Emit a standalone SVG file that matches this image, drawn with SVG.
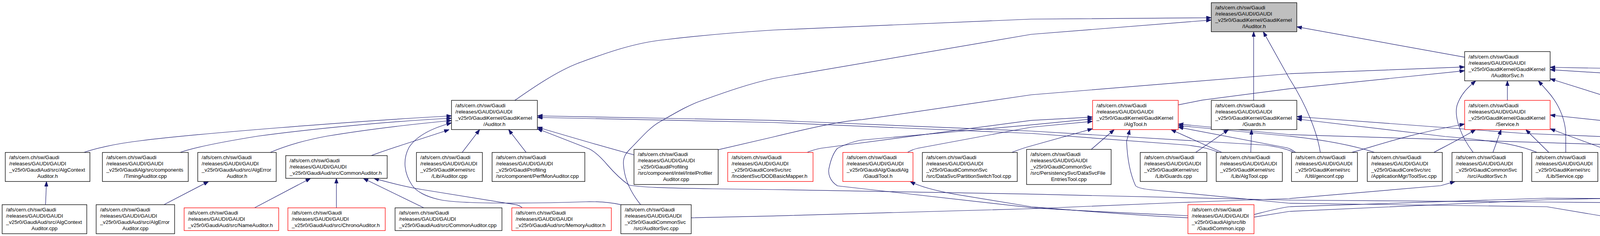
<svg xmlns="http://www.w3.org/2000/svg" width="7894" height="605" viewBox="0 0 7894 605">
<defs>
<style>
.t{font-family:"Liberation Sans",Arial,Helvetica,sans-serif;font-size:13.33px;fill:#000}
.c{text-anchor:middle}
rect.b{fill:#fff;stroke:#000;stroke-width:1.33}
rect.r{fill:#fff;stroke:#ff0000;stroke-width:1.33}
rect.g{fill:#bfbfbf;stroke:#000;stroke-width:1.33}
#edges path{fill:none;stroke:#191970;stroke-width:1.2;marker-end:url(#arr)}
</style>
<marker id="arr" viewBox="0 0 13 9.5" refX="13" refY="4.75" markerWidth="13" markerHeight="9.5" markerUnits="userSpaceOnUse" orient="auto">
<path d="M0,0L13,4.75L0,9.5z" fill="#191970" stroke="#191970" stroke-width="1"/>
</marker>
</defs>
<rect x="0" y="0" width="7894" height="605" fill="#fff"/>
<g id="edges">
<path d="M116.6,524.7L119,465.3"/>
<path d="M419.6,524.7L534,465.3"/>
<path d="M214.6,390.8C240,382 290,369 358,361C500,343 900,311 1155.8,297"/>
<path d="M460.9,390.8C480,384 530,370 660,349C800,330 1000,311 1155.8,303"/>
<path d="M691.6,390.8C710,383 760,363 837,349C950,330 1060,318 1155.8,309"/>
<path d="M950.4,398.9C990,383 1080,356 1150,332.2"/>
<path d="M1183,390.8L1228,332.2"/>
<path d="M1347,390.8C1335,375 1315,350 1302,332.2"/>
<path d="M1623,397C1540,375 1440,345 1375.6,326"/>
<path d="M1589.4,524.7C1560,518 1530,517 1509,517C1420,520 1200,525 1131,513C1090,505 1065,490 1055,475C1035,445 1030,410 1047,378C1065,350 1100,330 1155.8,315"/>
<path d="M651.5,532.8L795,457.2"/>
<path d="M861.2,532.8L861.2,457.2"/>
<path d="M1085,532.8L930,457.2"/>
<path d="M1337,532.8C1330,527 1325,525 1320,524.7L1081,486C1050,481 1010,472 957,457.2"/>
<path d="M1318,257.3C1350,235 1420,185 1480,162C1540,140 1620,110 1700,102C1800,90 1900,82 1980,77L2640,49L3100.9,45.5"/>
<path d="M1640,524.7C1620,500 1598,465 1596,420C1595,400 1605,390 1615,380C1640,355 1660,330 1686,314C1720,295 1760,270 1796,258C1860,235 1920,214 1980,201L2640,88L3100.9,51.3"/>
<path d="M3209.4,257.3L3209.4,81.4"/>
<path d="M3380,390.8C3372,340 3345,270 3300,200L3234,81.4"/>
<path d="M3749.5,146.6L3319.8,68.7"/>
<path d="M1838.5,383.9L1980,351C2100,322 2160,310 2207,306.7L2640,243L3300,189L3749.5,171.7"/>
<path d="M3016.3,268.9L3077.7,256.6L3300,227.6L3749.5,181.3"/>
<path d="M3771.4,390.8C3740,350 3722,300 3730,270C3740,240 3760,222 3778,207.2"/>
<path d="M3858.9,257.3L3858.9,207.2"/>
<path d="M4008.4,390.8L4008.4,339.5C4005,300 3990,265 3960,232L3938,207.2"/>
<path d="M5657.5,286.3L5280,262.3L4620,220L3968.4,178.6"/>
<path d="M4566,390.8L4541,382L3968.4,202"/>
<path d="M7158.9,555.6L7260,551.7C7500,540 7700,515 7798,501.5C7830,495 7855,485 7866,476C7880,462 7889,445 7889,428C7889,410 7880,392 7866,380L7741,339.5L7260,287.4L6600,247L5940,220.7L5280,199.8L4620,184.4L3968.4,172.5"/>
<path d="M6887.5,558.3L6600,554.4L5940,545L5280,538L4620,528L4300,521L3960,518L3300,513L2640,497.7L1980,486L1825,484C1700,482 1640,480 1610,474.5C1590,460 1570,440 1556,424C1540,405 1525,390 1509,382L1375.6,330"/>
<path d="M4199,524.7L4199,465.3"/>
<path d="M4114.5,556L3960,530L3300,521L2951,487C2920,484 2910,480 2907,476C2895,450 2886,410 2884,362L2892.5,332.2"/>
<path d="M3210.3,556.7C3250,550 3280,545 3300,542L3960,512L4620,497.7C4800,490 4900,482 4925,474L4942,465.3"/>
<path d="M3210.3,550C3250,540 3280,532 3300,530L3960,508L4620,512L5280,512L5940,501.5L6285,487C6330,482 6350,479 6355,476.5C6375,455 6382,435 6382,420C6382,400 6375,385 6357,372C6340,362 6325,356 6310,351L5940,308.6L5876.4,305"/>
<path d="M4283.2,558.3L4620,548L5280,537L5940,526.6L6600,501.5C6750,490 6840,480 6869,474.5C6882,455 6890,440 6890,424C6890,405 6882,390 6869,380C6855,372 6845,367 6834,362.7L6600,324L5940,312L5876.4,309"/>
<path d="M1769.5,558.3L1980,553.6L2640,535L3000,520L3300,509L3688,476L3725,465.3"/>
<path d="M3041.1,558.3C2900,552 2700,535 2640,530L2443,497.7C2380,486 2350,476 2330,465.3"/>
<path d="M3041.1,553C2900,547 2700,537 2640,532.4L2144,476.5C2125,465 2118,445 2123,428C2128,405 2135,390 2144,380C2165,370 2185,362 2207,359L2640,320.2L2797,304.8"/>
<path d="M2066,390.8C2080,385 2090,382 2102,380L2640,308.6L2797,300"/>
<path d="M2323,390.8C2333,385 2340,382 2350,380L2640,326L2797,311"/>
<path d="M2590,390.8C2610,383 2625,378 2640,374L2797,330"/>
<path d="M2793.6,383L2852.5,332.2"/>
<path d="M3128,390.8L2997.7,332.2"/>
<path d="M3060.9,390.8L3145,332.2"/>
<path d="M3202,390.8L3204,332.2"/>
<path d="M3519,390.8C3480,378 3420,362 3300,349L3016.3,322"/>
<path d="M3317,390.8C3310,386 3305,382 3295,379L3016.3,326"/>
<path d="M4321,390.8C4300,383 4280,378 4250,375L3300,345L3016.3,318"/>
<path d="M3460,390.8C3520,375 3600,345 3749.5,318"/>
<path d="M3670.4,390.8C3700,375 3740,355 3777.7,332.2"/>
<path d="M3821.9,390.8L3842.9,332.2"/>
<path d="M3965,390.8L3906,332.2"/>
<path d="M4130,390.8C4100,378 4060,365 3968.4,330"/>
<path d="M4757,390.8C4740,383 4720,375 4620,364.6L3968.4,295"/>
<path d="M3935,390.8C3900,376 3850,362 3700,350L3319.8,305"/>
<path d="M4560,390.8C4530,380 4450,368 4300,358L3900,342L3319.8,299"/>
<path d="M3312,390.8C3300,384 3280,378 3240,372L2640,336L1980,308.6L1375.6,297"/>
<path d="M3120,390.8C3100,382 3080,377 3040,372L2640,342L1980,314L1375.6,301"/>
<path d="M5360,390.8C5400,375 5460,362 5500,355L5657.5,322"/>
<path d="M5102,390.8C5130,380 5180,365 5280,347L5657.5,307"/>
<path d="M4898,390.8C4930,378 4990,368 5100,355L5657.5,304"/>
<path d="M4704,390.8C4730,378 4780,368 4900,355L5657.5,301"/>
<path d="M4510,390.8C4540,378 4600,366 4700,355L5657.5,299"/>
<path d="M4268,390.8C4300,378 4350,365 4450,355L5657.5,297"/>
<path d="M5595.7,390.8L5694.6,332.2"/>
<path d="M5767,390.8L5767,332.2"/>
<path d="M5928,390.8L5835.5,332.2"/>
<path d="M6142,390.8L6041,362.7L5940,333.7L5876.4,322"/>
<path d="M6428,390.8C6400,382 6370,375 6300,366L5876.4,300"/>
<path d="M6642,390.8C6630,386 6615,382 6600,380L5876.4,302"/>
<path d="M6945,390.8C6920,382 6900,376 6850,372L5876.4,298"/>
<path d="M7160,390.8C7140,382 7120,376 7080,372L5876.4,297"/>
<path d="M7412,390.8C7390,382 7370,376 7330,372L5876.4,296"/>
<path d="M7634.4,383.9L7260,341.4L6600,311.7L5876.4,299"/>
<path d="M7023,524.7L7023,465.3"/>
</g>
<g id="n_IAuditor_h"><rect class="g" x="3100.9" y="6.9" width="218.9" height="74.5"/><text class="t"><tspan x="3110.9" y="24.2">/afs/cern.ch/sw/Gaudi</tspan><tspan x="3110.9" y="40.2">/releases/GAUDI/GAUDI</tspan><tspan x="3110.9" y="56.2">_v25r0/GaudiKernel/GaudiKernel</tspan></text><text class="t c" x="3210.35" y="72.2">/IAuditor.h</text></g>
<g id="n_IAuditorSvc_h"><rect class="b" x="3749.5" y="132.3" width="218.9" height="74.9"/><text class="t"><tspan x="3759.5" y="149.7">/afs/cern.ch/sw/Gaudi</tspan><tspan x="3759.5" y="165.7">/releases/GAUDI/GAUDI</tspan><tspan x="3759.5" y="181.7">_v25r0/GaudiKernel/GaudiKernel</tspan></text><text class="t c" x="3858.95" y="197.7">/IAuditorSvc.h</text></g>
<g id="n_Auditor_h"><rect class="b" x="1155.8" y="257.3" width="219.8" height="74.9"/><text class="t"><tspan x="1165.8" y="274.7">/afs/cern.ch/sw/Gaudi</tspan><tspan x="1165.8" y="290.7">/releases/GAUDI/GAUDI</tspan><tspan x="1165.8" y="306.7">_v25r0/GaudiKernel/GaudiKernel</tspan></text><text class="t c" x="1265.7" y="322.7">/Auditor.h</text></g>
<g id="n_AlgTool_h"><rect class="r" x="2797" y="257.3" width="219.3" height="74.9"/><text class="t"><tspan x="2807" y="274.7">/afs/cern.ch/sw/Gaudi</tspan><tspan x="2807" y="290.7">/releases/GAUDI/GAUDI</tspan><tspan x="2807" y="306.7">_v25r0/GaudiKernel/GaudiKernel</tspan></text><text class="t c" x="2906.65" y="322.7">/AlgTool.h</text></g>
<g id="n_Guards_h"><rect class="b" x="3100.9" y="257.3" width="218.9" height="74.9"/><text class="t"><tspan x="3110.9" y="274.7">/afs/cern.ch/sw/Gaudi</tspan><tspan x="3110.9" y="290.7">/releases/GAUDI/GAUDI</tspan><tspan x="3110.9" y="306.7">_v25r0/GaudiKernel/GaudiKernel</tspan></text><text class="t c" x="3210.35" y="322.7">/Guards.h</text></g>
<g id="n_Service_h"><rect class="r" x="3749.5" y="257.3" width="218.9" height="74.9"/><text class="t"><tspan x="3759.5" y="274.7">/afs/cern.ch/sw/Gaudi</tspan><tspan x="3759.5" y="290.7">/releases/GAUDI/GAUDI</tspan><tspan x="3759.5" y="306.7">_v25r0/GaudiKernel/GaudiKernel</tspan></text><text class="t c" x="3858.95" y="322.7">/Service.h</text></g>
<g id="n_Algorithm_h"><rect class="b" x="5657.5" y="257.3" width="218.9" height="74.9"/><text class="t"><tspan x="5667.5" y="274.7">/afs/cern.ch/sw/Gaudi</tspan><tspan x="5667.5" y="290.7">/releases/GAUDI/GAUDI</tspan><tspan x="5667.5" y="306.7">_v25r0/GaudiKernel/GaudiKernel</tspan></text><text class="t c" x="5766.95" y="322.7">/Algorithm.h</text></g>
<g id="n_AlgContextAuditor_h"><rect class="b" x="13.5" y="390.8" width="216.7" height="74.5"/><text class="t"><tspan x="23.5" y="408">/afs/cern.ch/sw/Gaudi</tspan><tspan x="23.5" y="424">/releases/GAUDI/GAUDI</tspan><tspan x="23.5" y="440">_v25r0/GaudiAud/src/AlgContext</tspan></text><text class="t c" x="121.85" y="456">Auditor.h</text></g>
<g id="n_TimingAuditor_cpp"><rect class="b" x="262.2" y="390.8" width="219.7" height="74.5"/><text class="t"><tspan x="272.2" y="408">/afs/cern.ch/sw/Gaudi</tspan><tspan x="272.2" y="424">/releases/GAUDI/GAUDI</tspan><tspan x="272.2" y="440">_v25r0/GaudiAlg/src/components</tspan></text><text class="t c" x="372.05" y="456">/TimingAuditor.cpp</text></g>
<g id="n_AlgErrorAuditor_h"><rect class="b" x="506.3" y="390.8" width="200.8" height="74.5"/><text class="t"><tspan x="516.3" y="408">/afs/cern.ch/sw/Gaudi</tspan><tspan x="516.3" y="424">/releases/GAUDI/GAUDI</tspan><tspan x="516.3" y="440">_v25r0/GaudiAud/src/AlgError</tspan></text><text class="t c" x="606.7" y="456">Auditor.h</text></g>
<g id="n_CommonAuditor_h"><rect class="b" x="731.5" y="398.9" width="259.7" height="58.3"/><text class="t"><tspan x="741.5" y="416">/afs/cern.ch/sw/Gaudi</tspan><tspan x="741.5" y="432">/releases/GAUDI/GAUDI</tspan><tspan x="741.5" y="448">_v25r0/GaudiAud/src/CommonAuditor.h</tspan></text></g>
<g id="n_Lib_Auditor_cpp"><rect class="b" x="1066.1" y="390.8" width="168.8" height="74.5"/><text class="t"><tspan x="1076.1" y="408">/afs/cern.ch/sw/Gaudi</tspan><tspan x="1076.1" y="424">/releases/GAUDI/GAUDI</tspan><tspan x="1076.1" y="440">_v25r0/GaudiKernel/src</tspan></text><text class="t c" x="1150.5" y="456">/Lib/Auditor.cpp</text></g>
<g id="n_PerfMonAuditor_cpp"><rect class="b" x="1259.7" y="390.8" width="237.5" height="74.5"/><text class="t"><tspan x="1269.7" y="408">/afs/cern.ch/sw/Gaudi</tspan><tspan x="1269.7" y="424">/releases/GAUDI/GAUDI</tspan><tspan x="1269.7" y="440">_v25r0/GaudiProfiling</tspan><tspan x="1269.7" y="456">/src/component/PerfMonAuditor.cpp</tspan></text></g>
<g id="n_IntelProfilerAuditor_cpp"><rect class="b" x="1623" y="383" width="215.5" height="90"/><text class="t"><tspan x="1633" y="400">/afs/cern.ch/sw/Gaudi</tspan><tspan x="1633" y="416">/releases/GAUDI/GAUDI</tspan><tspan x="1633" y="432">_v25r0/GaudiProfiling</tspan><tspan x="1633" y="448">/src/component/intel/IntelProfiler</tspan></text><text class="t c" x="1730.75" y="464">Auditor.cpp</text></g>
<g id="n_DODBasicMapper_h"><rect class="r" x="1862.9" y="390.8" width="218.5" height="74.5"/><text class="t"><tspan x="1872.9" y="408">/afs/cern.ch/sw/Gaudi</tspan><tspan x="1872.9" y="424">/releases/GAUDI/GAUDI</tspan><tspan x="1872.9" y="440">_v25r0/GaudiCoreSvc/src</tspan><tspan x="1872.9" y="456">/IncidentSvc/DODBasicMapper.h</tspan></text></g>
<g id="n_GaudiTool_h"><rect class="r" x="2157.6" y="390.8" width="179.7" height="74.5"/><text class="t"><tspan x="2167.6" y="408">/afs/cern.ch/sw/Gaudi</tspan><tspan x="2167.6" y="424">/releases/GAUDI/GAUDI</tspan><tspan x="2167.6" y="440">_v25r0/GaudiAlg/GaudiAlg</tspan></text><text class="t c" x="2247.45" y="456">/GaudiTool.h</text></g>
<g id="n_PartitionSwitchTool_cpp"><rect class="b" x="2361.3" y="390.8" width="242.9" height="74.5"/><text class="t"><tspan x="2371.3" y="408">/afs/cern.ch/sw/Gaudi</tspan><tspan x="2371.3" y="424">/releases/GAUDI/GAUDI</tspan><tspan x="2371.3" y="440">_v25r0/GaudiCommonSvc</tspan><tspan x="2371.3" y="456">/src/DataSvc/PartitionSwitchTool.cpp</tspan></text></g>
<g id="n_DataSvcFileEntriesTool_cpp"><rect class="b" x="2628.1" y="383" width="216.4" height="90"/><text class="t"><tspan x="2638.1" y="400">/afs/cern.ch/sw/Gaudi</tspan><tspan x="2638.1" y="416">/releases/GAUDI/GAUDI</tspan><tspan x="2638.1" y="432">_v25r0/GaudiCommonSvc</tspan><tspan x="2638.1" y="448">/src/PersistencySvc/DataSvcFile</tspan></text><text class="t c" x="2736.3" y="464">EntriesTool.cpp</text></g>
<g id="n_Guards_cpp"><rect class="b" x="2919" y="390.8" width="170.5" height="74.5"/><text class="t"><tspan x="2929" y="408">/afs/cern.ch/sw/Gaudi</tspan><tspan x="2929" y="424">/releases/GAUDI/GAUDI</tspan><tspan x="2929" y="440">_v25r0/GaudiKernel/src</tspan></text><text class="t c" x="3004.25" y="456">/Lib/Guards.cpp</text></g>
<g id="n_AlgTool_cpp"><rect class="b" x="3113.5" y="390.8" width="169.2" height="74.5"/><text class="t"><tspan x="3123.5" y="408">/afs/cern.ch/sw/Gaudi</tspan><tspan x="3123.5" y="424">/releases/GAUDI/GAUDI</tspan><tspan x="3123.5" y="440">_v25r0/GaudiKernel/src</tspan></text><text class="t c" x="3198.1" y="456">/Lib/AlgTool.cpp</text></g>
<g id="n_genconf_cpp"><rect class="b" x="3306.3" y="390.8" width="168.8" height="74.5"/><text class="t"><tspan x="3316.3" y="408">/afs/cern.ch/sw/Gaudi</tspan><tspan x="3316.3" y="424">/releases/GAUDI/GAUDI</tspan><tspan x="3316.3" y="440">_v25r0/GaudiKernel/src</tspan></text><text class="t c" x="3390.7" y="456">/Util/genconf.cpp</text></g>
<g id="n_ToolSvc_cpp"><rect class="b" x="3500.3" y="390.8" width="192" height="74.5"/><text class="t"><tspan x="3510.3" y="408">/afs/cern.ch/sw/Gaudi</tspan><tspan x="3510.3" y="424">/releases/GAUDI/GAUDI</tspan><tspan x="3510.3" y="440">_v25r0/GaudiCoreSvc/src</tspan><tspan x="3510.3" y="456">/ApplicationMgr/ToolSvc.cpp</tspan></text></g>
<g id="n_AuditorSvc_h"><rect class="b" x="3717.1" y="390.8" width="180.1" height="74.5"/><text class="t"><tspan x="3727.1" y="408">/afs/cern.ch/sw/Gaudi</tspan><tspan x="3727.1" y="424">/releases/GAUDI/GAUDI</tspan><tspan x="3727.1" y="440">_v25r0/GaudiCommonSvc</tspan></text><text class="t c" x="3807.15" y="456">/src/AuditorSvc.h</text></g>
<g id="n_Service_cpp"><rect class="b" x="3921.2" y="390.8" width="169.3" height="74.5"/><text class="t"><tspan x="3931.2" y="408">/afs/cern.ch/sw/Gaudi</tspan><tspan x="3931.2" y="424">/releases/GAUDI/GAUDI</tspan><tspan x="3931.2" y="440">_v25r0/GaudiKernel/src</tspan></text><text class="t c" x="4005.85" y="456">/Lib/Service.cpp</text></g>
<g id="n_HistorySvc_h"><rect class="b" x="4114.5" y="390.8" width="168.7" height="74.5"/><text class="t"><tspan x="4124.5" y="408">/afs/cern.ch/sw/Gaudi</tspan><tspan x="4124.5" y="424">/releases/GAUDI/GAUDI</tspan><tspan x="4124.5" y="440">_v25r0/GaudiMonitor/src</tspan></text><text class="t c" x="4198.85" y="456">/HistorySvc.h</text></g>
<g id="n_GaudiCommonConstructors_cpp"><rect class="b" x="4307.2" y="390.8" width="218" height="74.5"/><text class="t"><tspan x="4317.2" y="408">/afs/cern.ch/sw/Gaudi</tspan><tspan x="4317.2" y="424">/releases/GAUDI/GAUDI</tspan><tspan x="4317.2" y="440">_v25r0/GaudiAlg/src/lib</tspan><tspan x="4317.2" y="456">/GaudiCommonConstructors.cpp</tspan></text></g>
<g id="n_Algorithm_cpp"><rect class="b" x="4549.2" y="390.8" width="169.3" height="74.5"/><text class="t"><tspan x="4559.2" y="408">/afs/cern.ch/sw/Gaudi</tspan><tspan x="4559.2" y="424">/releases/GAUDI/GAUDI</tspan><tspan x="4559.2" y="440">_v25r0/GaudiKernel/src</tspan></text><text class="t c" x="4633.85" y="456">/Lib/Algorithm.cpp</text></g>
<g id="n_Bootstrap_cpp"><rect class="b" x="4742" y="390.8" width="169.2" height="74.5"/><text class="t"><tspan x="4752" y="408">/afs/cern.ch/sw/Gaudi</tspan><tspan x="4752" y="424">/releases/GAUDI/GAUDI</tspan><tspan x="4752" y="440">_v25r0/GaudiKernel/src</tspan></text><text class="t c" x="4826.6" y="456">/Lib/Bootstrap.cpp</text></g>
<g id="n_GaudiAlgorithm_h"><rect class="r" x="4935.2" y="390.8" width="180.2" height="74.5"/><text class="t"><tspan x="4945.2" y="408">/afs/cern.ch/sw/Gaudi</tspan><tspan x="4945.2" y="424">/releases/GAUDI/GAUDI</tspan><tspan x="4945.2" y="440">_v25r0/GaudiAlg/GaudiAlg</tspan></text><text class="t c" x="5025.3" y="456">/GaudiAlgorithm.h</text></g>
<g id="n_OutputStream_h"><rect class="r" x="5138.9" y="390.8" width="239.6" height="74.5"/><text class="t"><tspan x="5148.9" y="408">/afs/cern.ch/sw/Gaudi</tspan><tspan x="5148.9" y="424">/releases/GAUDI/GAUDI</tspan><tspan x="5148.9" y="440">_v25r0/GaudiCommonSvc</tspan><tspan x="5148.9" y="456">/src/PersistencySvc/OutputStream.h</tspan></text></g>
<g id="n_AlgorithmManager_cpp"><rect class="b" x="5403.3" y="390.8" width="253" height="74.5"/><text class="t"><tspan x="5413.3" y="408">/afs/cern.ch/sw/Gaudi</tspan><tspan x="5413.3" y="424">/releases/GAUDI/GAUDI</tspan><tspan x="5413.3" y="440">_v25r0/GaudiCoreSvc/src</tspan><tspan x="5413.3" y="456">/ApplicationMgr/AlgorithmManager.cpp</tspan></text></g>
<g id="n_AlgorithmHistory_cpp"><rect class="b" x="5681.5" y="390.8" width="171.7" height="74.5"/><text class="t"><tspan x="5691.5" y="408">/afs/cern.ch/sw/Gaudi</tspan><tspan x="5691.5" y="424">/releases/GAUDI/GAUDI</tspan><tspan x="5691.5" y="440">_v25r0/GaudiKernel/src</tspan><tspan x="5691.5" y="456">/Lib/AlgorithmHistory.cpp</tspan></text></g>
<g id="n_GaudiPython_Algorithm_h"><rect class="r" x="5877.2" y="390.8" width="225.3" height="74.5"/><text class="t"><tspan x="5887.2" y="408">/afs/cern.ch/sw/Gaudi</tspan><tspan x="5887.2" y="424">/releases/GAUDI/GAUDI</tspan><tspan x="5887.2" y="440">_v25r0/GaudiPython/GaudiPython</tspan></text><text class="t c" x="5989.85" y="456">/Algorithm.h</text></g>
<g id="n_CollectionCloneAlg_cpp"><rect class="b" x="6127.3" y="390.8" width="215.9" height="74.5"/><text class="t"><tspan x="6137.3" y="408">/afs/cern.ch/sw/Gaudi</tspan><tspan x="6137.3" y="424">/releases/GAUDI/GAUDI</tspan><tspan x="6137.3" y="440">_v25r0/GaudiSvc/src/NTupleSvc</tspan></text><text class="t c" x="6235.25" y="456">/CollectionCloneAlg.cpp</text></g>
<g id="n_EventCounter_h"><rect class="r" x="6418.5" y="390.8" width="179.7" height="74.5"/><text class="t"><tspan x="6428.5" y="408">/afs/cern.ch/sw/Gaudi</tspan><tspan x="6428.5" y="424">/releases/GAUDI/GAUDI</tspan><tspan x="6428.5" y="440">_v25r0/GaudiAlg/GaudiAlg</tspan></text><text class="t c" x="6508.35" y="456">/EventCounter.h</text></g>
<g id="n_PartitionSwitchAlg_cpp"><rect class="b" x="6622.3" y="390.8" width="235.7" height="74.5"/><text class="t"><tspan x="6632.3" y="408">/afs/cern.ch/sw/Gaudi</tspan><tspan x="6632.3" y="424">/releases/GAUDI/GAUDI</tspan><tspan x="6632.3" y="440">_v25r0/GaudiCommonSvc</tspan><tspan x="6632.3" y="456">/src/DataSvc/PartitionSwitchAlg.cpp</tspan></text></g>
<g id="n_Sequencer_h"><rect class="r" x="6933.3" y="390.8" width="180.2" height="74.5"/><text class="t"><tspan x="6943.3" y="408">/afs/cern.ch/sw/Gaudi</tspan><tspan x="6943.3" y="424">/releases/GAUDI/GAUDI</tspan><tspan x="6943.3" y="440">_v25r0/GaudiAlg/GaudiAlg</tspan></text><text class="t c" x="7023.4" y="456">/Sequencer.h</text></g>
<g id="n_StoreExplorerAlg_cpp"><rect class="b" x="7137.5" y="390.8" width="230.1" height="74.5"/><text class="t"><tspan x="7147.5" y="408">/afs/cern.ch/sw/Gaudi</tspan><tspan x="7147.5" y="424">/releases/GAUDI/GAUDI</tspan><tspan x="7147.5" y="440">_v25r0/GaudiCommonSvc</tspan><tspan x="7147.5" y="456">/src/DataSvc/StoreExplorerAlg.cpp</tspan></text></g>
<g id="n_StoreSnifferAlg_cpp"><rect class="b" x="7391.4" y="390.8" width="218" height="74.5"/><text class="t"><tspan x="7401.4" y="408">/afs/cern.ch/sw/Gaudi</tspan><tspan x="7401.4" y="424">/releases/GAUDI/GAUDI</tspan><tspan x="7401.4" y="440">_v25r0/GaudiCommonSvc</tspan><tspan x="7401.4" y="456">/src/DataSvc/StoreSnifferAlg.cpp</tspan></text></g>
<g id="n_EvtCollectionStream_h"><rect class="r" x="7634.4" y="383" width="222.8" height="90"/><text class="t"><tspan x="7644.4" y="400">/afs/cern.ch/sw/Gaudi</tspan><tspan x="7644.4" y="416">/releases/GAUDI/GAUDI</tspan><tspan x="7644.4" y="432">_v25r0/GaudiCommonSvc</tspan><tspan x="7644.4" y="448">/src/PersistencySvc/EvtCollection</tspan></text><text class="t c" x="7745.8" y="464">Stream.h</text></g>
<g id="n_AlgContextAuditor_cpp"><rect class="b" x="5.5" y="524.7" width="216.7" height="74.5"/><text class="t"><tspan x="15.5" y="542">/afs/cern.ch/sw/Gaudi</tspan><tspan x="15.5" y="558">/releases/GAUDI/GAUDI</tspan><tspan x="15.5" y="574">_v25r0/GaudiAud/src/AlgContext</tspan></text><text class="t c" x="113.85" y="590">Auditor.cpp</text></g>
<g id="n_AlgErrorAuditor_cpp"><rect class="b" x="246.2" y="524.7" width="200.8" height="74.5"/><text class="t"><tspan x="256.2" y="542">/afs/cern.ch/sw/Gaudi</tspan><tspan x="256.2" y="558">/releases/GAUDI/GAUDI</tspan><tspan x="256.2" y="574">_v25r0/GaudiAud/src/AlgError</tspan></text><text class="t c" x="346.6" y="590">Auditor.cpp</text></g>
<g id="n_NameAuditor_h"><rect class="r" x="471.4" y="532.8" width="242.1" height="58.3"/><text class="t"><tspan x="481.4" y="550">/afs/cern.ch/sw/Gaudi</tspan><tspan x="481.4" y="566">/releases/GAUDI/GAUDI</tspan><tspan x="481.4" y="582">_v25r0/GaudiAud/src/NameAuditor.h</tspan></text></g>
<g id="n_ChronoAuditor_h"><rect class="r" x="737" y="532.8" width="249.2" height="58.3"/><text class="t"><tspan x="747" y="550">/afs/cern.ch/sw/Gaudi</tspan><tspan x="747" y="566">/releases/GAUDI/GAUDI</tspan><tspan x="747" y="582">_v25r0/GaudiAud/src/ChronoAuditor.h</tspan></text></g>
<g id="n_CommonAuditor_cpp"><rect class="b" x="1011.4" y="532.8" width="273.6" height="58.3"/><text class="t"><tspan x="1021.4" y="550">/afs/cern.ch/sw/Gaudi</tspan><tspan x="1021.4" y="566">/releases/GAUDI/GAUDI</tspan><tspan x="1021.4" y="582">_v25r0/GaudiAud/src/CommonAuditor.cpp</tspan></text></g>
<g id="n_MemoryAuditor_h"><rect class="r" x="1310.3" y="532.8" width="254.7" height="58.3"/><text class="t"><tspan x="1320.3" y="550">/afs/cern.ch/sw/Gaudi</tspan><tspan x="1320.3" y="566">/releases/GAUDI/GAUDI</tspan><tspan x="1320.3" y="582">_v25r0/GaudiAud/src/MemoryAuditor.h</tspan></text></g>
<g id="n_AuditorSvc_cpp"><rect class="b" x="1589.4" y="524.7" width="180.1" height="74.5"/><text class="t"><tspan x="1599.4" y="542">/afs/cern.ch/sw/Gaudi</tspan><tspan x="1599.4" y="558">/releases/GAUDI/GAUDI</tspan><tspan x="1599.4" y="574">_v25r0/GaudiCommonSvc</tspan></text><text class="t c" x="1679.45" y="590">/src/AuditorSvc.cpp</text></g>
<g id="n_GaudiCommon_icpp"><rect class="r" x="3041.1" y="524.7" width="169.2" height="74.5"/><text class="t"><tspan x="3051.1" y="542">/afs/cern.ch/sw/Gaudi</tspan><tspan x="3051.1" y="558">/releases/GAUDI/GAUDI</tspan><tspan x="3051.1" y="574">_v25r0/GaudiAlg/src/lib</tspan></text><text class="t c" x="3125.7" y="590">/GaudiCommon.icpp</text></g>
<g id="n_HistorySvc_cpp"><rect class="b" x="4114.5" y="524.7" width="168.7" height="74.5"/><text class="t"><tspan x="4124.5" y="542">/afs/cern.ch/sw/Gaudi</tspan><tspan x="4124.5" y="558">/releases/GAUDI/GAUDI</tspan><tspan x="4124.5" y="574">_v25r0/GaudiMonitor/src</tspan></text><text class="t c" x="4198.85" y="590">/HistorySvc.cpp</text></g>
<g id="n_GoogleAuditor_cpp"><rect class="b" x="6887.5" y="524.7" width="271.4" height="74.5"/><text class="t"><tspan x="6897.5" y="542">/afs/cern.ch/sw/Gaudi</tspan><tspan x="6897.5" y="558">/releases/GAUDI/GAUDI</tspan><tspan x="6897.5" y="574">_v25r0/GaudiProfiling</tspan><tspan x="6897.5" y="590">/src/component/google/GoogleAuditor.cpp</tspan></text></g>
</svg>
